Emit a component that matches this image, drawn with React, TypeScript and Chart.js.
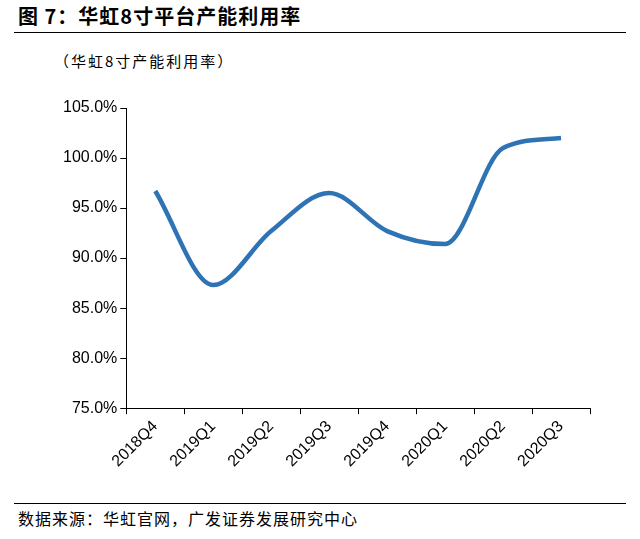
import React, { useEffect, useRef } from "react";
import { Chart, registerables } from "chart.js";
Chart.register(...registerables);

const categories = ["2018Q4", "2019Q1", "2019Q2", "2019Q3", "2019Q4", "2020Q1", "2020Q2", "2020Q3"];
const utilization = [96.7, 87.3, 92.7, 96.5, 92.7, 91.4, 101.0, 102.0];
const yTicks = [75, 80, 85, 90, 95, 100, 105];

export default function App() {
  const ref = useRef<HTMLCanvasElement>(null);
  useEffect(() => {
    const chart = new Chart(ref.current!, {
      type: "line",
      data: {
        labels: categories,
        datasets: [{
          data: utilization,
          borderColor: "#2e74b5",
          borderWidth: 4.5,
          pointRadius: 0,
          tension: 0.45,
          cubicInterpolationMode: "monotone",
          fill: false,
        }],
      },
      options: {
        animation: false,
        responsive: false,
        layout: { padding: { left: 20, right: 50, top: 16, bottom: 0 } },
        plugins: { legend: { display: false }, tooltip: { enabled: false } },
        scales: {
          x: {
            offset: true,
            grid: { display: true, drawOnChartArea: false, drawTicks: true, tickLength: 6, color: "#000", offset: true },
            border: { color: "#000", width: 1 },
            ticks: { color: "#000", font: { family: "Liberation Sans", size: 16 }, maxRotation: 45, minRotation: 45 },
          },
          y: {
            min: 75, max: 105,
            afterBuildTicks: (s: any) => { s.ticks = yTicks.map(v => ({ value: v })); },
            grid: { display: true, drawOnChartArea: false, drawTicks: true, tickLength: 6, color: "#000" },
            border: { color: "#000", width: 1 },
            ticks: { color: "#000", font: { family: "Liberation Sans", size: 16 }, callback: (v: any) => Number(v).toFixed(1) + "%" },
          },
        },
      },
    });
    return () => chart.destroy();
  }, []);
  return (
    <div style={{ position: "absolute", left: 0, top: 0, width: 640, height: 539, background: "#fff", fontFamily: "'Noto Sans CJK SC', sans-serif" }}>
      <div style={{ position: "absolute", left: 18, top: 1, fontSize: 20, fontWeight: 700, color: "#000", letterSpacing: 1 }}>图 7：华虹8寸平台产能利用率</div>
      <div style={{ position: "absolute", left: 14, right: 14, top: 32, borderTop: "1px solid #000" }} />
      <div style={{ position: "absolute", left: 54, top: 50, fontSize: 15, color: "#000", letterSpacing: 2 }}>（华虹8寸产能利用率）</div>
      <canvas ref={ref} width={600} height={382} style={{ position: "absolute", left: 40, top: 92 }} />
      <div style={{ position: "absolute", left: 14, right: 14, top: 503, borderTop: "1px solid #000" }} />
      <div style={{ position: "absolute", left: 18, top: 506, fontSize: 16, color: "#000", letterSpacing: 1 }}>数据来源：华虹官网，广发证券发展研究中心</div>
    </div>
  );
}
